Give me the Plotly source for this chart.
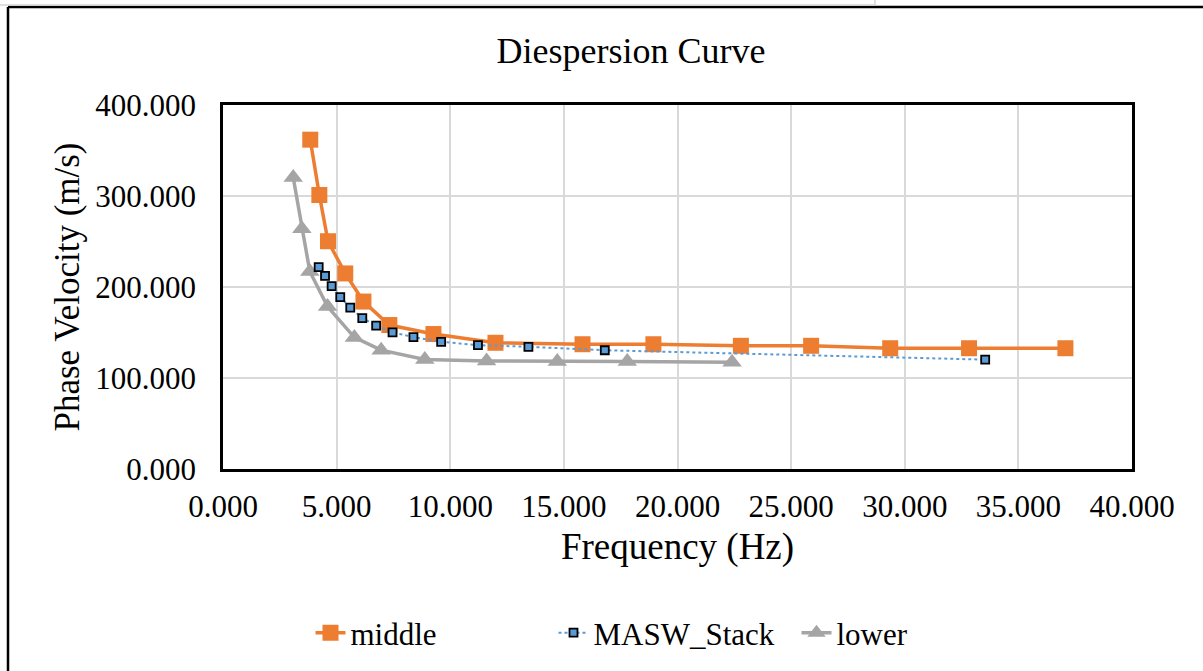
import plotly.graph_objects as go

# ---- data ----
middle_freq = [3.84, 4.24, 4.62, 5.38, 6.18, 7.32, 9.26, 11.99, 15.82, 18.94, 22.79, 25.88, 29.36, 32.83, 37.07]
middle_vel = [361.9, 301.1, 250.3, 214.9, 184.0, 158.2, 148.3, 138.7, 137.1, 137.1, 135.4, 135.4, 132.7, 132.7, 132.7]

masw_freq = [4.21, 4.49, 4.78, 5.16, 5.60, 6.13, 6.74, 7.46, 8.38, 9.60, 11.22, 13.44, 16.80, 33.54]
masw_vel = [221.9, 212.3, 200.9, 188.8, 177.3, 165.9, 157.5, 150.1, 145.0, 139.8, 136.1, 134.3, 130.5, 120.2]

lower_freq = [3.09, 3.47, 3.82, 4.60, 5.78, 6.96, 8.88, 11.60, 14.71, 17.79, 22.40]
lower_vel = [320.3, 263.9, 217.1, 178.5, 144.6, 130.6, 120.3, 118.8, 118.0, 118.0, 117.2]

title_text = "Diespersion Curve"
x_title = "Frequency (Hz)"
y_title = "Phase Velocity (m/s)"

FONT = "Liberation Serif"
ORANGE = "#ED7D31"
BLUE = "#5B9BD5"
GRAY = "#A5A5A5"

fig = go.Figure()
fig.add_trace(go.Scatter(
    x=middle_freq, y=middle_vel, name="middle", mode="lines+markers",
    line=dict(color=ORANGE, width=3.5),
    marker=dict(symbol="square", size=16, color=ORANGE),
    legendrank=1,
))
fig.add_trace(go.Scatter(
    x=lower_freq, y=lower_vel, name="lower", mode="lines+markers",
    line=dict(color=GRAY, width=3.5),
    marker=dict(symbol="triangle-up", size=17, color=GRAY),
    legendrank=3,
))
fig.add_trace(go.Scatter(
    x=masw_freq, y=masw_vel, name="MASW_Stack", mode="lines+markers",
    line=dict(color=BLUE, width=2, dash="dot"),
    marker=dict(symbol="square", size=8, color=BLUE, line=dict(color="black", width=1.8)),
    legendrank=2,
))

# plot-area pixel box (page coordinates)
L, R, T, B = 223, 1132, 105, 469
W, H = R - L, B - T
def px(xp):
    return (xp - L) / W
def py(yp):
    return (B - yp) / H

shapes = [
    dict(type="line", xref="paper", yref="paper", x0=px(8), x1=px(1215), y0=py(7), y1=py(7),
         line=dict(color="black", width=2.5)),
    dict(type="line", xref="paper", yref="paper", x0=px(8), x1=px(8), y0=py(7), y1=py(690),
         line=dict(color="black", width=2.5)),
    dict(type="line", xref="paper", yref="paper", x0=px(-5), x1=px(875), y0=py(5), y1=py(5),
         line=dict(color="#d4d4d4", width=1.5)),
    dict(type="line", xref="paper", yref="paper", x0=px(875), x1=px(875), y0=py(5), y1=py(-5),
         line=dict(color="#d4d4d4", width=1.5)),
]

fig.update_layout(
    width=1203, height=671,
    margin=dict(l=L, r=1203 - R, t=T, b=671 - B, autoexpand=False),
    paper_bgcolor="white", plot_bgcolor="white",
    font=dict(family=FONT, size=31, color="black"),
    title=dict(text=title_text, font=dict(family=FONT, size=36, color="black"),
               xref="container", x=631 / 1203, xanchor="center",
               yref="container", y=1 - 50 / 671, yanchor="middle"),
    xaxis=dict(range=[0, 40], dtick=5, tick0=0, tickformat=".3f",
               showgrid=True, gridcolor="#d9d9d9", gridwidth=2,
               showline=True, mirror=True, linecolor="black", linewidth=2.5,
               zeroline=False, ticks="", ticklabelstandoff=8,
               tickfont=dict(family=FONT, size=31),
               title=dict(text=x_title, font=dict(family=FONT, size=37), standoff=11)),
    yaxis=dict(range=[0, 400], dtick=100, tick0=0, tickformat=".3f",
               showgrid=True, gridcolor="#d9d9d9", gridwidth=2,
               showline=True, mirror=True, linecolor="black", linewidth=2.5,
               zeroline=False, ticks="", ticklabelstandoff=18,
               tickfont=dict(family=FONT, size=31),
               title=dict(text=y_title, font=dict(family=FONT, size=35), standoff=6)),
    legend=dict(orientation="h", xref="container", x=675 / 1203, xanchor="center",
                yref="container", y=1 - 633 / 671, yanchor="middle",
                font=dict(family=FONT, size=31), bgcolor="rgba(0,0,0,0)",
                traceorder="normal", entrywidth=198, entrywidthmode="pixels"),
    shapes=shapes,
    showlegend=True,
)

fig.write_html("out.html", config={"displayModeBar": False},
               post_script="document.body.style.margin='0';document.body.style.overflow='hidden';")
